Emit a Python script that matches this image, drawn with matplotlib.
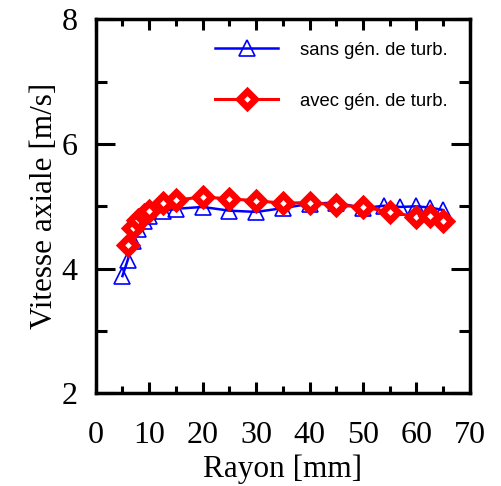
import matplotlib
matplotlib.use("Agg")
import matplotlib.pyplot as plt
from matplotlib.ticker import MultipleLocator

# data
rayon_sans = [5, 6, 7, 8, 9, 10, 12.5, 15, 20, 25, 30, 35, 40, 45, 50, 54, 57, 60, 62.5, 65]
vit_sans = [3.88, 4.14, 4.45, 4.63, 4.76, 4.85, 4.92, 4.96, 4.99, 4.93, 4.91, 4.97,
            5.04, 5.06, 4.97, 5.01, 4.99, 5.00, 4.98, 4.94]
rayon_avec = [6, 7, 8, 9, 10, 12.5, 15, 20, 25, 30, 35, 40, 45, 50, 55, 60, 62.5, 65]
vit_avec = [4.38, 4.65, 4.78, 4.86, 4.93, 5.05, 5.10, 5.15, 5.12, 5.09, 5.05, 5.06,
            5.02, 4.99, 4.91, 4.83, 4.85, 4.77]
label_sans = "sans gén. de turb."
label_avec = "avec gén. de turb."

serif = ["Liberation Serif", "DejaVu Serif"]
narrow = ["Liberation Sans Narrow", "Liberation Sans", "DejaVu Sans"]

fig = plt.figure(figsize=(5.01, 4.86), dpi=100)
ax = fig.add_axes([0.191, 0.191, 0.747, 0.769])

ax.plot(rayon_sans, vit_sans, color="blue", lw=1.8, marker="^", ms=11,
        mfc="none", mec="blue", mew=1.2, label=label_sans)
ax.plot(rayon_avec, vit_avec, color="red", lw=2.2, marker="D", ms=8.5,
        mfc="white", mec="red", mew=4.8, label=label_avec)

ax.set_xlim(0, 70)
ax.set_ylim(2, 8)
ax.xaxis.set_major_locator(MultipleLocator(10))
ax.xaxis.set_minor_locator(MultipleLocator(5))
ax.yaxis.set_major_locator(MultipleLocator(2))
ax.yaxis.set_minor_locator(MultipleLocator(1))
ax.tick_params(which="both", direction="in", top=True, right=True, width=2.2)
ax.tick_params(which="major", length=8)
ax.tick_params(which="minor", length=5)
ax.tick_params(axis="y", which="major", length=14)
ax.tick_params(axis="y", which="minor", length=8)
ax.tick_params(axis="x", which="major", pad=20)
ax.tick_params(axis="y", which="major", pad=13)
for lab in ax.get_xticklabels() + ax.get_yticklabels():
    lab.set_family(serif)
    lab.set_fontsize(23)
for sp in ax.spines.values():
    sp.set_linewidth(2.5)

ax.set_xlabel("Rayon [mm]", family=serif, fontsize=22.5, labelpad=3)
ax.set_ylabel("Vitesse axiale [m/s]", family=serif, fontsize=22.5, labelpad=2)

leg = ax.legend(loc="upper right", frameon=False, prop={"family": narrow, "size": 13.3},
                handlelength=3.4, labelspacing=1.85, handletextpad=1.2,
                borderaxespad=0.8, numpoints=1)

fig.savefig("out.png", dpi=100)
